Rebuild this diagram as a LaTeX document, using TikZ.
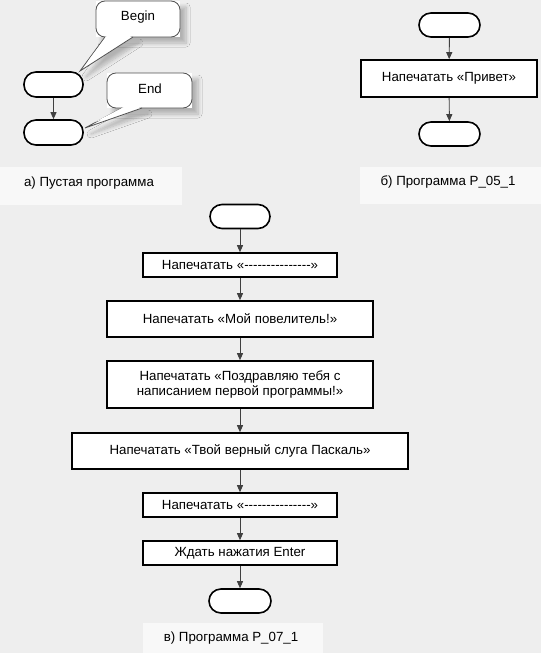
\documentclass[tikz,border=0pt]{standalone}
\usepackage{fontspec}
\setmainfont{Liberation Sans}[Ligatures=TeXOff]
\usetikzlibrary{arrows.meta,shadows.blur}
\definecolor{bg}{HTML}{EEEEEE}
\definecolor{capbg}{HTML}{F8F8F8}
\definecolor{callline}{HTML}{505050}
\definecolor{arrcol}{HTML}{404040}
\tikzset{
  term/.style={draw, line width=1.6pt, rounded corners=12pt, fill=white,
    minimum width=60pt, minimum height=24pt, inner sep=0pt},
  proc/.style={draw, line width=1.6pt, fill=white, align=center,
    minimum height=24pt, inner sep=2pt},
  arr/.style={draw=arrcol, line width=0.9pt, -{Triangle[length=7pt,width=6pt]}},
  capbox/.style={fill=capbg, draw=none},
  calloutline/.style={draw=callline, line width=0.8pt},
  calloutshadow/.style={blur shadow={shadow xshift=6pt, shadow yshift=-6pt, shadow blur steps=8, shadow blur radius=4pt, shadow opacity=25}},
  txt/.style={inner sep=0pt}
}
\begin{document}
\begin{tikzpicture}[x=1pt, y=-1pt, font=\fontsize{13.3}{15.5}\selectfont]
\fill[bg] (0,0) rectangle (541,653);
\useasboundingbox (0,0) rectangle (541,653);

% caption boxes
\fill[capbox] (0,167) rectangle (182,205);
\fill[capbox] (360,167) rectangle (541,204);
\fill[capbox] (143,623) rectangle (323,653);

% ---------- panel a ----------
\node[term, minimum width=59pt, minimum height=25pt] (ta1) at (53.5,84.5) {};
\node[term, minimum width=59pt, minimum height=25pt] (ta2) at (53.5,132.5) {};
\draw[arr] (ta1) -- (ta2);

% callout Begin
\path[calloutshadow, fill=white] (96,1) rectangle (180,37);
\path[calloutshadow, fill=white] (105,37) -- (80,71) -- (133,37) -- cycle;
\draw[calloutline, fill=white, rounded corners=9pt] (96,1) rectangle (180,37);
\draw[calloutline, fill=white] (105,37) -- (80,71) -- (133,37);
\fill[white] (106.5,36.2) -- (88,61) -- (131,36.2) -- cycle;
\node[txt] (cb) at (138,17) {Begin};

% callout End
\path[calloutshadow, fill=white] (107,73) rectangle (192,108);
\path[calloutshadow, fill=white] (122,108) -- (85,128) -- (142,108) -- cycle;
\draw[calloutline, fill=white, rounded corners=9pt] (107,73) rectangle (192,108);
\draw[calloutline, fill=white] (122,108) -- (85,128) -- (142,108);
\fill[white] (123.5,107.2) -- (95,122) -- (140.5,107.2) -- cycle;
\node[txt] (ce) at (150,89) {End};

\node[txt] (capa) at (89,183) {а) Пустая программа};

% ---------- panel b ----------
\node[term, minimum width=61pt] (tb1) at (449.5,25) {};
\node[proc, minimum width=176pt, minimum height=37pt] (rb) at (449,78.5) {Напечатать «Привет»};
\node[term, minimum width=61pt] (tb2) at (449.5,134) {};
\draw[arr] (tb1) -- (rb);
\draw[arr] (rb) -- (tb2);
\node[txt] (capb) at (448,182) {б) Программа P\_05\_1};

% ---------- panel c ----------
\node[term] (tc1) at (240,216.5) {};
\node[proc, minimum width=194pt] (r1) at (240,265) {Напечатать «---------------»};
\node[proc, minimum width=266pt, minimum height=36pt] (r2) at (240,319) {Напечатать «Мой повелитель!»};
\node[proc, minimum width=266pt, minimum height=47pt] (r3) at (240,384.5) {Напечатать «Поздравляю тебя с\\написанием первой программы!»};
\node[proc, minimum width=336pt, minimum height=36pt] (r4) at (240,451) {Напечатать «Твой верный слуга Паскаль»};
\node[proc, minimum width=194pt] (r5) at (240,505) {Напечатать «---------------»};
\node[proc, minimum width=194pt] (r6) at (240,553) {Ждать нажатия Enter};
\node[term, minimum width=62pt] (tc2) at (240,601) {};
\draw[arr] (tc1) -- (r1);
\draw[arr] (r1) -- (r2);
\draw[arr] (r2) -- (r3);
\draw[arr] (r3) -- (r4);
\draw[arr] (r4) -- (r5);
\draw[arr] (r5) -- (r6);
\draw[arr] (r6) -- (tc2);
\node[txt] (capc) at (231,638) {в) Программа P\_07\_1};
\end{tikzpicture}
\end{document}
